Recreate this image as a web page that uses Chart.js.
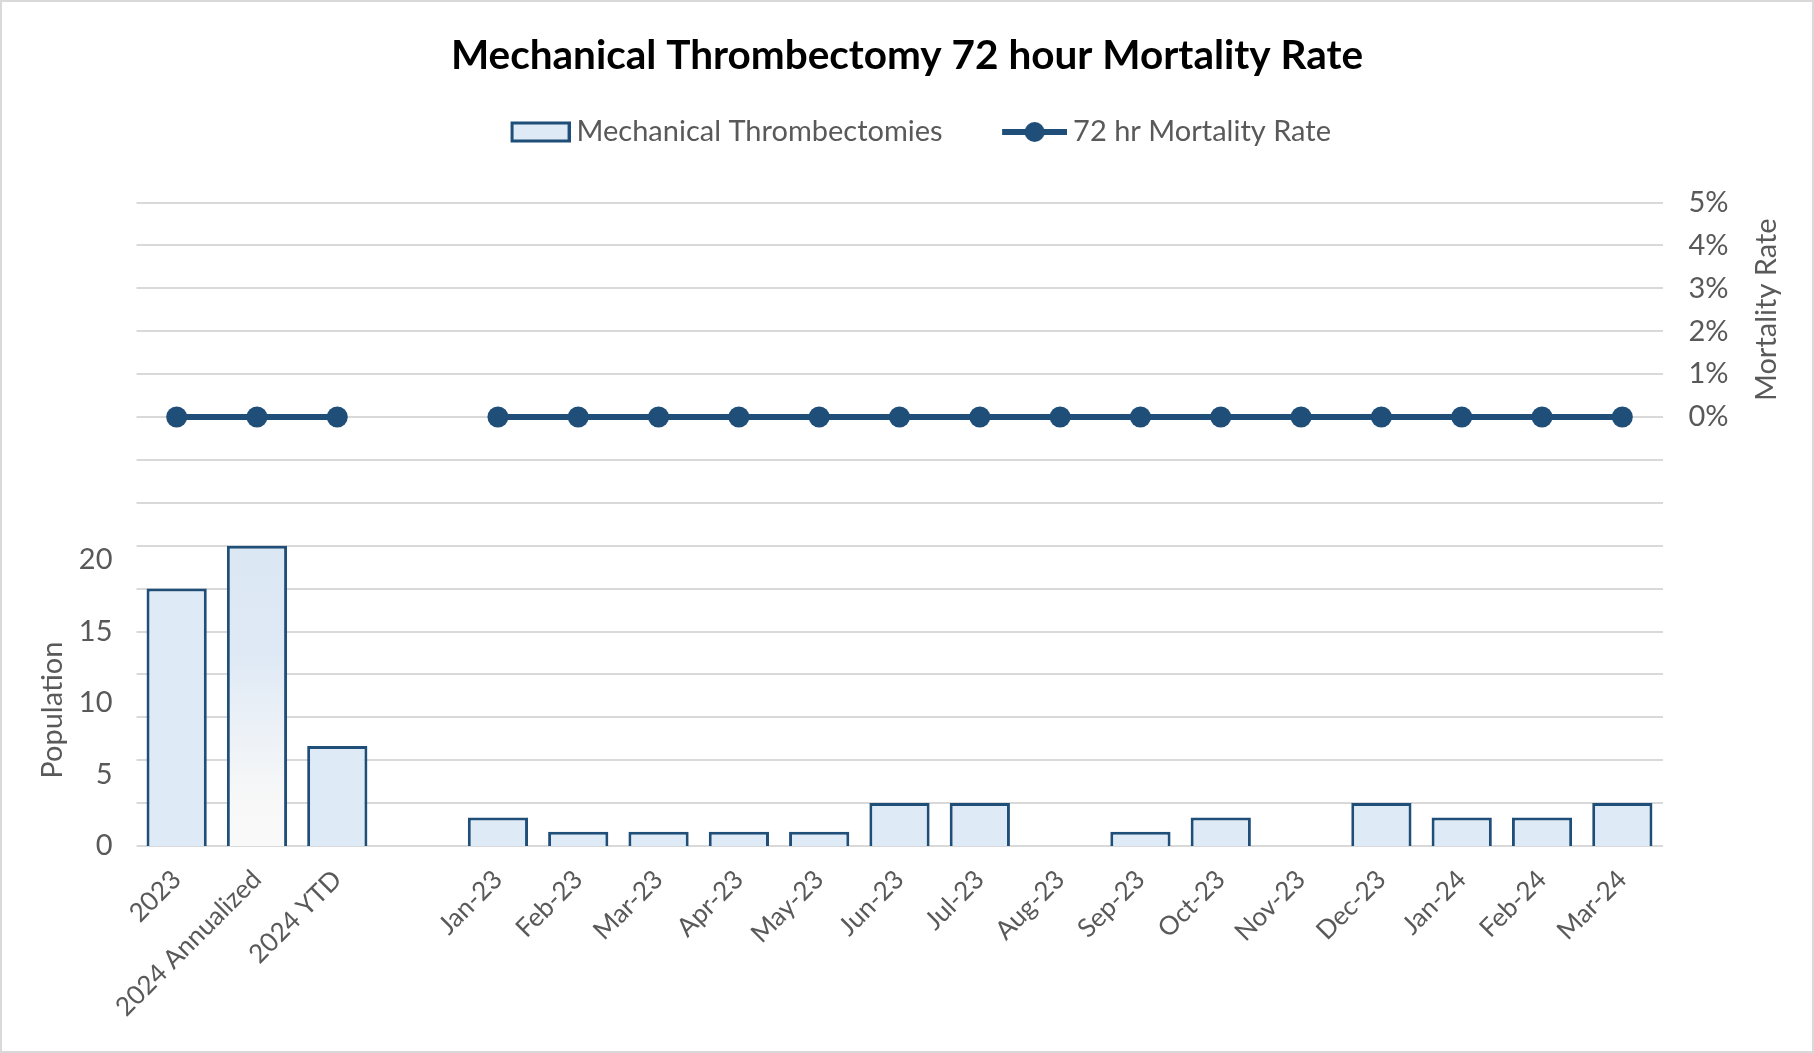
<!DOCTYPE html>
<html>
<head>
<meta charset="utf-8">
<style>
  html, body { margin: 0; padding: 0; background: #fff; }
  .chart-container { position: relative; width: 1814px; height: 1053px; }
</style>
</head>
<body>
  <div class="chart-container">
    <canvas id="chart1"></canvas>
  </div>
<script src="https://cdn.jsdelivr.net/npm/chart.js@4.4.1/dist/chart.umd.min.js"></script>
<script>
  const categories = [
    '2023', '2024 Annualized', '2024 YTD', '',
    'Jan-23', 'Feb-23', 'Mar-23', 'Apr-23', 'May-23', 'Jun-23', 'Jul-23',
    'Aug-23', 'Sep-23', 'Oct-23', 'Nov-23', 'Dec-23',
    'Jan-24', 'Feb-24', 'Mar-24'
  ]
  const thrombectomies = [18, 21, 7, null, 2, 1, 1, 1, 1, 3, 3, 0, 1, 2, 0, 3, 2, 2, 3]
  // percent
  const mortalityRate = [0, 0, 0, null, 0, 0, 0, 0, 0, 0, 0, 0, 0, 0, 0, 0, 0, 0, 0]

  // left axis only labels 0..20, right axis only labels 0%..5%
  const populationLabelMax = 20
  const rateLabelMin = 0

  const FONT = 'Lato'
  const SIZE = 29
  const GREY = '#595959'
  const DARK = '#1F4E79'
  const LIGHT = '#DEEAF6'

  function barFill(ctx) {
    const chart = ctx.chart
    const area = chart.chartArea
    if (ctx.dataIndex !== 1 || !area || !chart.scales.y) return LIGHT
    const top = chart.scales.y.getPixelForValue(ctx.raw)
    const g = chart.ctx.createLinearGradient(0, top, 0, area.bottom)
    g.addColorStop(0, '#DCE7F4')
    g.addColorStop(0.35, '#DEE9F5')
    g.addColorStop(0.85, '#F8F8F8')
    g.addColorStop(1, '#F9F9F9')
    return g
  }

  // legend icons, drawn at the right end of a wider transparent canvas
  function makeIcon(kind) {
    const c = document.createElement('canvas')
    c.width = 96
    c.height = 26
    const g = c.getContext('2d')
    if (kind === 'bar') {
      g.fillStyle = LIGHT
      g.fillRect(37.5, 4, 57, 18)
      g.strokeStyle = DARK
      g.lineWidth = 3
      g.strokeRect(37.5, 4, 57, 18)
    } else {
      g.strokeStyle = DARK
      g.lineWidth = 6
      g.beginPath()
      g.moveTo(31, 13)
      g.lineTo(96, 13)
      g.stroke()
      g.fillStyle = DARK
      g.beginPath()
      g.arc(63.5, 13, 10, 0, Math.PI * 2)
      g.fill()
    }
    return c
  }
  const legendIcons = [makeIcon('bar'), makeIcon('line')]

  const frame = {
    id: 'frame',
    beforeDraw(chart) {
      const { ctx, width, height } = chart
      ctx.save()
      ctx.fillStyle = '#fff'
      ctx.fillRect(0, 0, width, height)
      ctx.strokeStyle = '#D9D9D9'
      ctx.lineWidth = 2
      ctx.strokeRect(1, 1, width - 2, height - 2)
      ctx.restore()
    }
  }

  const axisTitles = {
    id: 'axisTitles',
    afterDraw(chart) {
      const { ctx, chartArea, scales } = chart
      const put = (text, x, y) => {
        ctx.save()
        ctx.translate(x, y)
        ctx.rotate(-Math.PI / 2)
        ctx.fillText(text, 0, 0)
        ctx.restore()
      }
      ctx.save()
      ctx.font = SIZE + 'px ' + FONT
      ctx.fillStyle = GREY
      ctx.textAlign = 'center'
      ctx.textBaseline = 'middle'
      put('Population', chartArea.left - 84, scales.y.getPixelForValue(9.5))
      put('Mortality Rate', chartArea.right + 104, scales.y1.getPixelForValue(2.5))
      ctx.restore()
    }
  }

  new Chart(document.getElementById('chart1'), {
    data: {
      labels: categories,
      datasets: [
        {
          type: 'bar',
          label: 'Mechanical Thrombectomies',
          data: thrombectomies,
          backgroundColor: barFill,
          borderColor: DARK,
          borderWidth: 3,
          categoryPercentage: 1,
          barPercentage: 0.75,
          yAxisID: 'y'
        },
        {
          type: 'line',
          label: '72 hr Mortality Rate',
          data: mortalityRate,
          borderColor: DARK,
          backgroundColor: DARK,
          borderWidth: 6,
          pointRadius: 10.5,
          pointBackgroundColor: DARK,
          pointBorderWidth: 0,
          spanGaps: false,
          yAxisID: 'y1'
        }
      ]
    },
    options: {
      responsive: true,
      maintainAspectRatio: false,
      animation: false,
      layout: { padding: 0 },
      plugins: {
        title: {
          display: true,
          text: 'Mechanical Thrombectomy 72 hour Mortality Rate',
          color: '#000',
          font: { family: FONT, size: 40.5, weight: 'bold', lineHeight: 1.2 },
          padding: { top: 31.7, bottom: 0.2 }
        },
        subtitle: {
          // empty spacer between legend and plot
          display: true,
          text: '',
          weight: 500,
          font: { family: FONT, size: 46, lineHeight: 1 },
          padding: 0
        },
        legend: {
          display: true,
          labels: {
            usePointStyle: true,
            pointStyleWidth: 79,
            padding: 37,
            color: GREY,
            font: { family: FONT, size: SIZE },
            generateLabels: chart =>
              Chart.defaults.plugins.legend.labels.generateLabels(chart).map(item => ({
                ...item,
                pointStyle: legendIcons[item.datasetIndex]
              }))
          }
        },
        tooltip: { enabled: false }
      },
      scales: {
        x: {
          grid: { display: false },
          border: { display: false },
          ticks: {
            autoSkip: false,
            minRotation: 45,
            maxRotation: 45,
            padding: 10,
            color: GREY,
            font: { family: FONT, size: 26 }
          },
          afterFit: s => { s.height = 207 }
        },
        y: {
          position: 'left',
          min: 0,
          max: 45,
          grid: { display: false, drawTicks: false },
          border: { display: false },
          ticks: {
            stepSize: 5,
            padding: 24,
            color: GREY,
            font: { family: FONT, size: SIZE },
            callback: v => (v <= populationLabelMax ? v : '')
          },
          afterFit: s => { s.width = 136.5 }
        },
        y1: {
          position: 'right',
          min: -10,
          max: 5,
          grid: { color: '#D9D9D9', lineWidth: 2, drawTicks: false },
          border: { display: false },
          ticks: {
            stepSize: 1,
            padding: 26,
            color: GREY,
            font: { family: FONT, size: SIZE },
            callback: v => (v >= rateLabelMin ? v + '%' : '')
          },
          afterFit: s => { s.width = 151.5 }
        }
      }
    },
    plugins: [frame, axisTitles]
  })
</script>
</body>
</html>
